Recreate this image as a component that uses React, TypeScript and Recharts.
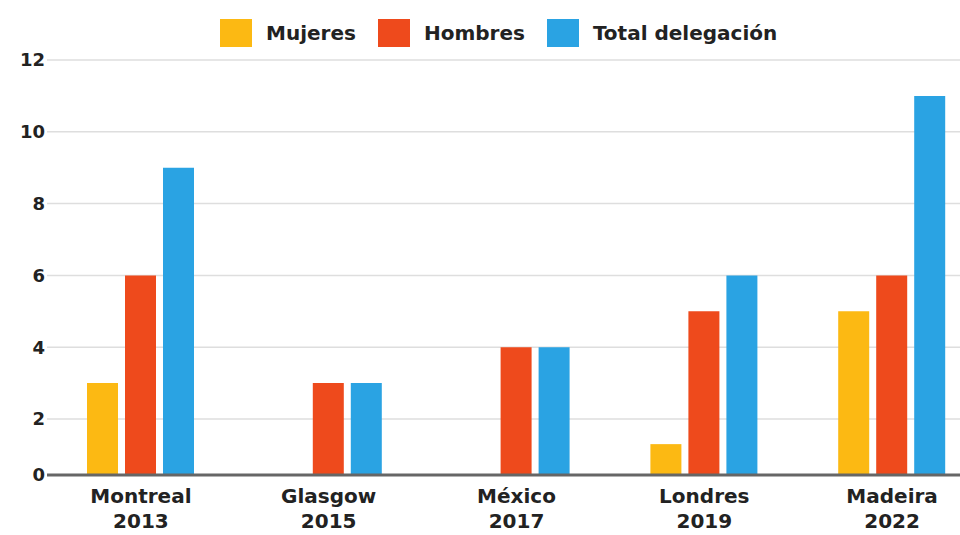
import { Bar, BarChart, CartesianGrid, Legend, XAxis, YAxis } from "recharts";

const cities = ["Montreal", "Glasgow", "México", "Londres", "Madeira"];
const years = ["2013", "2015", "2017", "2019", "2022"];
const mujeres = [3, 0, 0, 1.3, 5];
const hombres = [6, 3, 4, 5, 6];
const total = [9, 3, 4, 6, 11];

const seriesKeys = ["mujeres", "hombres", "total"];
const seriesNames = ["Mujeres", "Hombres", "Total delegación"];
const seriesColors = ["#FCB913", "#EE4A1C", "#2AA3E3"];

// the baseline of the original sits a bit above zero
const axisFloor = 0.44;
const yTicks = [axisFloor, 2, 4, 6, 8, 10, 12];

const font = "'DejaVu Sans', sans-serif";
const ink = "#222";

const data = cities.map((city, i) => ({
  city,
  year: years[i],
  mujeres: mujeres[i] || null,
  hombres: hombres[i] || null,
  total: total[i] || null,
}));

function CityTick({ x, y, payload }: any) {
  const year = years[payload.index];
  return (
    <g transform={`translate(${x},${y})`}>
      <text textAnchor="middle" fontFamily={font} fontSize={20} fontWeight={700} fill={ink}>
        <tspan x={0} dy={28}>{payload.value}</tspan>
        <tspan x={0} dy={25}>{year}</tspan>
      </text>
    </g>
  );
}

function LegendRow() {
  return (
    <div style={{ display: "flex", alignItems: "center", paddingLeft: 220, fontFamily: font }}>
      {seriesNames.map((name, i) => (
        <div key={name} style={{ display: "flex", alignItems: "center", marginRight: 22 }}>
          <span style={{ width: 32, height: 28, background: seriesColors[i], marginRight: 14 }} />
          <span style={{ fontSize: 20, fontWeight: 700, color: ink }}>{name}</span>
        </div>
      ))}
    </div>
  );
}

export default function App() {
  return (
    <div
      style={{
        position: "absolute",
        left: 0,
        top: 0,
        width: 960,
        height: 535,
        overflow: "hidden",
        background: "#fff",
      }}
    >
      <BarChart
        width={990}
        height={535}
        data={data}
        margin={{ top: 60, right: 4, bottom: 0, left: 0 }}
        barCategoryGap={40}
        barGap={7}
      >
        <CartesianGrid vertical={false} stroke="#dedede" strokeWidth={1.5} />
        <XAxis
          dataKey="city"
          height={60}
          interval={0}
          tickLine={false}
          tickSize={0}
          tickMargin={0}
          axisLine={{ stroke: "#666", strokeWidth: 3 }}
          tick={<CityTick />}
        />
        <YAxis
          width={47}
          domain={[axisFloor, 12]}
          ticks={yTicks}
          interval={0}
          axisLine={false}
          tickLine={false}
          tickSize={0}
          tickMargin={2}
          tickFormatter={(v: number) => (v < 1 ? "0" : String(v))}
          tick={{ fontFamily: font, fontSize: 18, fontWeight: 700, fill: ink }}
        />
        <Legend
          layout="horizontal"
          verticalAlign="middle"
          align="center"
          content={<LegendRow />}
          wrapperStyle={{ top: 19, left: 0, width: 960 }}
        />
        {seriesKeys.map((key, i) => (
          <Bar
            key={key}
            dataKey={key}
            name={seriesNames[i]}
            fill={seriesColors[i]}
            isAnimationActive={false}
          />
        ))}
      </BarChart>
    </div>
  );
}
